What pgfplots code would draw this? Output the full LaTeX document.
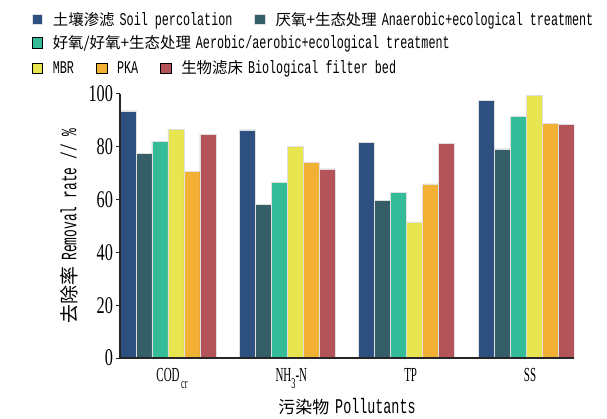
\documentclass[border=0pt]{standalone}
\usepackage{fontspec}
\usepackage{pgfplots}
\pgfplotsset{compat=1.18}
\setmainfont{Liberation Serif}
\newfontfamily\cjk{Noto Sans CJK SC}
\newfontfamily\cmono[FakeStretch=0.655]{Liberation Mono}
\newfontfamily\ymono[FakeStretch=0.59]{Liberation Mono}
\newfontfamily\xmono[FakeStretch=0.64]{Liberation Mono}
\newfontfamily\yserif[FakeStretch=0.68]{Liberation Serif}
\newfontfamily\xserif[FakeStretch=0.55]{Liberation Serif}

\definecolor{cBlue}{HTML}{2E5080}
\definecolor{cTeal}{HTML}{355E68}
\definecolor{cGreen}{HTML}{33BC97}
\definecolor{cYellow}{HTML}{E8E650}
\definecolor{cOrange}{HTML}{F2B035}
\definecolor{cRed}{HTML}{B4535A}

% legend text: CJK part, then Latin part
\newcommand\lgt[2]{{\cjk\fontsize{15.5}{18}\selectfont #1}\hspace{5bp}{\cmono\fontsize{18}{18}\selectfont #2}}
\newcommand\lgl[1]{{\cmono\fontsize{18}{18}\selectfont #1}}
\newcommand\sub[1]{\raisebox{-7bp}{\fontsize{15}{15}\selectfont #1}}

\pgfplotsset{
  box/.style={scale only axis, width=454bp, height=264bp,
    at={(120bp,61bp)}, anchor=south west},
  sq/.style={legend image code/.code={\fill[##1] (0bp,-5.3bp) rectangle (10.7bp,5.3bp);}},
  lgrow/.style={legend columns=-1,
    legend style={draw=none, fill=none, inner sep=0pt, outer sep=0pt,
      anchor=west, at={(axis description cs:-0.1945,#1)},
      nodes={inner sep=0pt},
      /tikz/every odd column/.append style={column sep=10bp},
      /tikz/every even column/.append style={column sep=22bp}}},
}

\pgfplotstableread{
g  soil  anaer  aer   mbr   pka   bio
0  93.6  77.5   82.1  86.7  70.7  84.8
1  86.4  58.3   66.4  80.2  74.0  71.6
2  81.8  59.6   62.8  51.6  66.0  81.2
3  97.5  79.2   91.4  99.5  89.0  88.6
}\rates

\begin{document}
\begin{tikzpicture}
\path[use as bounding box] (0,0) rectangle (607bp,419bp);
\begin{axis}[box,
  ybar=0pt, bar width=16bp, axis on top,
  xmin=-0.402, xmax=3.402, ymin=0, ymax=100,
  axis x line*=bottom, axis y line*=left,
  axis line style={black!85, line width=1.2bp},
  xtick={0,1,2,3},
  xticklabels={COD\hspace{1.5bp}\sub{cr}, NH\sub{3}-N, TP, SS},
  x tick style={draw=none},
  xticklabel style={font=\xserif\fontsize{20}{20}\selectfont, yshift=-3bp, xshift=4bp},
  ytick={0,20,...,100},
  tick align=outside, major tick length=3.5bp,
  y tick style={black!85, line width=1bp},
  yticklabel style={font=\yserif\fontsize{24}{24}\selectfont},
  /pgf/number format/assume math mode=true,
  ylabel={{\cjk\fontsize{19}{19}\selectfont 去除率}\hspace{6bp}{\ymono\fontsize{22}{22}\selectfont Removal rate // \%}},
  ylabel style={at={(axis description cs:-0.1123,0.5)}, anchor=center},
  xlabel={{\cjk\fontsize{17}{17}\selectfont 污染物}\hspace{6bp}{\xmono\fontsize{21}{21}\selectfont Pollutants}},
  xlabel style={at={(axis description cs:0.5,-0.211)}, anchor=base},
  every axis plot/.append style={draw=gray!25, line width=0.5bp},
  sq, lgrow=1.283,
]
\addplot[fill=cBlue]   table[x=g,y=soil]  {\rates};
\addplot[fill=cTeal]   table[x=g,y=anaer] {\rates};
\addplot[fill=cGreen]  table[x=g,y=aer]   {\rates};
\addplot[fill=cYellow] table[x=g,y=mbr]   {\rates};
\addplot[fill=cOrange] table[x=g,y=pka]   {\rates};
\addplot[fill=cRed]    table[x=g,y=bio]   {\rates};
\legend{\lgt{土壤渗滤}{Soil percolation}, \lgt{厌氧+生态处理}{Anaerobic+ecological treatment}}
\end{axis}

\begin{axis}[box, hide axis, xmin=0, xmax=1, ymin=0, ymax=1, sq, lgrow=1.194]
\addlegendimage{fill=cGreen}
\addlegendentry{\lgt{好氧/好氧+生态处理}{Aerobic/aerobic+ecological treatment}}
\end{axis}

\begin{axis}[box, hide axis, xmin=0, xmax=1, ymin=0, ymax=1, sq, lgrow=1.098]
\addlegendimage{fill=cYellow}
\addlegendentry{\lgl{MBR}}
\addlegendimage{fill=cOrange}
\addlegendentry{\lgl{PKA}}
\addlegendimage{fill=cRed}
\addlegendentry{\lgt{生物滤床}{Biological filter bed}}
\end{axis}
\end{tikzpicture}
\end{document}
